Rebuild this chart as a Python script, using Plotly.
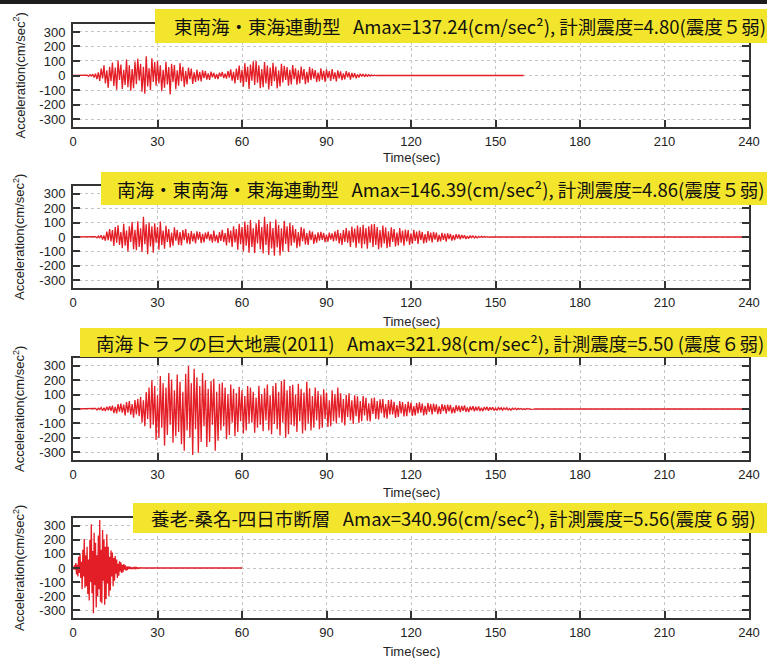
import numpy as np
import plotly.graph_objects as go

W, H = 767, 658

# ---------------- data ----------------
time_ticks = [0, 30, 60, 90, 120, 150, 180, 210, 240]
acc_ticks = [-300, -200, -100, 0, 100, 200, 300]

quake_names = ["東南海・東海連動型", "南海・東南海・東海連動型", "南海トラフの巨大地震(2011)", "養老-桑名-四日市断層"]
amax_values = ["137.24", "146.39", "321.98", "340.96"]
intensity_values = ["4.80", "4.86", "5.50 ", "5.56"]
shindo_classes = ["震度５弱", "震度５弱", "震度６弱", "震度６弱"]

# sampling of each digitised record: first sample time, step, record end (s)
rec_start = [5.0, 8.0, 8.0, 0.0]
rec_step = [0.5, 0.5, 0.5, 0.25]
rec_end = [160.0, 240.0, 240.0, 60.0]

acc_tonankai_tokai = [
    3, -6, 5, -4, 9, -14, 12, -25, 22, -38,
    48, -20, 70, -55, 35, -85, 60, -40, 90, -72,
    55, -98, 104, -30, 75, -92, 40, -65, 110, -80,
    70, -105, 45, -88, 96, -60, 115, -35, 80, -112,
    60, -125, 132, -75, 50, -100, 118, -45, 92, -70,
    102, -55, 70, -108, 40, -85, 95, -62, 58, -130,
    80, -45, 72, -95, 35, -70, 85, -40, 60, -78,
    30, -62, 55, -25, 48, -58, 22, -45, 40, -35,
    25, -40, 35, -18, 30, -28, 15, -30, 26, -12,
    18, -22, 10, -25, 20, -8, 24, -18, 12, -22,
    30, -15, 42, -36, 25, -55, 48, -30, 68, -50,
    40, -78, 85, -45, 60, -92, 75, -35, 98, -66,
    102, -50, 70, -88, 45, -80, 92, -55, 68, -96,
    55, -72, 88, -40, 62, -90, 35, -75, 80, -48,
    66, -30, 58, -70, 40, -62, 72, -25, 50, -64,
    35, -55, 62, -28, 45, -60, 25, -50, 58, -32,
    48, -22, 38, -45, 20, -40, 50, -28, 32, -44,
    42, -18, 30, -38, 45, -25, 22, -40, 35, -20,
    28, -32, 15, -26, 30, -12, 22, -28, 18, -14,
    16, -20, 8, -14, 12, -6, 10, -9, 7, -5,
    5, -4, 3, -2, 2, -1, 0,
]

acc_nankai_tonankai_tokai = [
    3, -6, 7, -5, 12, -18, 10, -26, 38, -22,
    55, -30, 48, -62, 70, -40, 82, -55, 35, -78,
    92, -60, 45, -100, 75, -35, 105, -85, 50, -92,
    110, -70, 60, -105, 140, -50, 88, -120, 102, -65,
    75, -110, 95, -40, 70, -88, 108, -55, 45, -82,
    78, -35, 55, -72, 30, -60, 68, -25, 50, -55,
    35, -58, 48, -22, 55, -45, 28, -50, 42, -30,
    25, -45, 40, -18, 35, -42, 22, -38, 30, -15,
    38, -25, 20, -40, 45, -30, 15, -42, 35, -28,
    50, -35, 28, -58, 62, -40, 45, -70, 75, -38,
    55, -88, 92, -50, 70, -100, 108, -60, 85, -110,
    118, -70, 60, -112, 95, -45, 120, -85, 70, -115,
    140, -55, 90, -125, 108, -80, 62, -130, 122, -72,
    85, -128, 60, -100, 112, -48, 75, -105, 98, -60,
    82, -40, 55, -78, 35, -65, 70, -30, 58, -52,
    28, -55, 45, -22, 38, -48, 18, -40, 32, -25,
    35, -20, 28, -35, 15, -32, 30, -18, 25, -30,
    40, -25, 50, -45, 28, -55, 48, -35, 62, -40,
    45, -70, 72, -38, 58, -75, 80, -45, 68, -78,
    85, -50, 62, -82, 75, -40, 88, -70, 90, -55,
    70, -85, 48, -72, 80, -45, 65, -78, 40, -70,
    68, -35, 55, -65, 30, -58, 62, -40, 45, -60,
    52, -30, 48, -55, 25, -46, 50, -28, 38, -48,
    44, -22, 35, -45, 20, -40, 42, -25, 30, -38,
    36, -18, 30, -34, 15, -30, 28, -20, 24, -32,
    26, -15, 22, -25, 12, -22, 20, -10, 18, -16,
    14, -8, 12, -14, 6, -11, 10, -5, 8, -7,
    5, -6, 4, -3, 5, -2, 3, -2, 2, -1,
    0,
]

acc_nankai_trough = [
    4, -7, 6, -3, 10, -12, 8, -14, 16, -9,
    20, -12, 24, -28, 15, -30, 34, -18, 38, -26,
    30, -45, 48, -25, 55, -40, 35, -60, 62, -38,
    70, -50, 85, -95, 60, -120, 118, -70, 150, -135,
    200, -110, 160, -215, 95, -200, 230, -130, 180, -255,
    150, -180, 250, -110, 205, -235, 130, -190, 240, -160,
    190, -245, 120, -290, 245, -150, 300, -200, 180, -320,
    280, -140, 220, -305, 160, -230, 250, -120, 200, -265,
    140, -230, 195, -110, 210, -290, 120, -220, 175, -150,
    185, -120, 150, -210, 105, -180, 170, -95, 140, -190,
    110, -160, 155, -85, 130, -170, 90, -150, 160, -100,
    150, -95, 120, -165, 80, -130, 162, -110, 105, -155,
    145, -80, 170, -150, 95, -175, 160, -105, 180, -140,
    120, -185, 195, -95, 205, -200, 130, -175, 160, -110,
    168, -120, 100, -160, 175, -85, 140, -170, 115, -150,
    190, -100, 145, -150, 90, -130, 150, -80, 125, -140,
    95, -130, 138, -70, 115, -125, 60, -120, 130, -85,
    105, -100, 150, -60, 110, -95, 70, -115, 98, -55,
    110, -80, 60, -105, 95, -50, 88, -98, 55, -85,
    90, -45, 78, -82, 40, -86, 75, -35, 80, -70,
    55, -72, 68, -30, 70, -60, 35, -68, 62, -40,
    65, -38, 50, -62, 28, -55, 56, -30, 48, -52,
    35, -50, 52, -25, 45, -48, 20, -44, 42, -30,
    46, -25, 38, -45, 22, -40, 42, -20, 35, -38,
    38, -20, 32, -36, 18, -34, 34, -15, 28, -32,
    30, -16, 28, -30, 12, -28, 26, -14, 24, -22,
    22, -12, 25, -20, 10, -22, 18, -9, 20, -16,
    16, -10, 18, -14, 8, -15, 14, -7, 15, -12,
    12, -6, 13, -11, 5, -10, 10, -4, 9, -8,
    8, -4, 9, -7, 3, -8, 6, -3, 6, -5,
    5, -2, 4, -4, 2, -3, 3, -1, 2, -2,
    1, -1, 0,
]

acc_yoro_kuwana_yokkaichi = [
    5, -10, 18, -12, 35, -45, 22, -60, 80, -35,
    100, -70, 45, -150, 130, -60, 205, -140, 90, -130,
    150, -185, 60, -230, 200, -100, 310, -180, 120, -322,
    250, -120, 180, -280, 90, -200, 230, -150, 340, -240,
    130, -250, 270, -90, 200, -260, 150, -220, 240, -110,
    150, -200, 80, -160, 125, -60, 110, -130, 70, -90,
    85, -40, 60, -70, 30, -55, 48, -25, 40, -35,
    22, -30, 28, -12, 20, -18, 10, -16, 12, -8,
    10, -6, 8, -8, 4, -6, 6, -3, 5, -4,
    3, -3, 2, -3, 1, -2, 2, -1, 1, 0,
]

records = [acc_tonankai_tokai, acc_nankai_tonankai_tokai, acc_nankai_trough, acc_yoro_kuwana_yokkaichi]

# ---------------- layout geometry (pixels) ----------------
frame_left, frame_right = 73, 749
frames = [(24, 127), (186, 288), (358, 460), (518, 618)]          # top, bottom
time_label_y = [158, 321, 492, 651]
boxes = [(155, 9, 43, 172), (101, 172, 205, 115), (80, 328, 357, 94), (133, 503, 533, 149)]  # left, top, bottom, text x


def px(x):
    return x / W


def py(y):
    return 1 - y / H


RED = "#e41e26"
FRAME = "#333333"
TICKFONT = dict(family="Liberation Sans, Arial, sans-serif", size=13, color="#222222")

fig = go.Figure()
shapes = []
annotations = []

for i in range(4):
    n = i + 1
    vals = records[i]
    t = rec_start[i] + rec_step[i] * np.arange(len(vals))
    tt = list(t)
    yy = list(vals)
    if rec_start[i] > 0:
        tt = [0.0] + tt
        yy = [0] + yy
    tt.append(rec_end[i])
    yy.append(0)
    fig.add_trace(go.Scatter(x=tt, y=yy, mode="lines", line=dict(color=RED, width=1.3),
                             xaxis=f"x{n}", yaxis=f"y{n}", showlegend=False, hoverinfo="skip"))

    top, bot = frames[i]
    common = dict(showline=True, linecolor=FRAME, linewidth=2, mirror="ticks",
                  ticks="inside", ticklen=7, tickwidth=2, tickcolor=FRAME,
                  showgrid=True, gridcolor="#c4c4c4", gridwidth=1, griddash="dot",
                  zeroline=False, tickfont=TICKFONT, fixedrange=True, automargin=False)
    fig.update_layout(**{
        f"xaxis{n}": dict(domain=[px(frame_left), px(frame_right)], range=[0, 240],
                          tickvals=time_ticks, ticktext=[str(v) for v in time_ticks],
                          anchor=f"y{n}", ticklabelstandoff=1, **common),
        f"yaxis{n}": dict(domain=[py(bot), py(top)], range=[-355, 355],
                          tickvals=acc_ticks, ticktext=[str(v) for v in acc_ticks],
                          anchor=f"x{n}", ticklabelstandoff=3, **common),
    })

    # axis titles
    annotations.append(dict(x=px((frame_left + frame_right) / 2), y=py(time_label_y[i]),
                            xref="paper", yref="paper", text="Time(sec)", showarrow=False,
                            font=dict(family="Liberation Sans, Arial, sans-serif", size=13, color="#222222"),
                            xanchor="center", yanchor="middle"))
    annotations.append(dict(x=px(19), y=py((top + bot) / 2), xref="paper", yref="paper",
                            text="Acceleration(cm/sec<sup>2</sup>)", textangle=-90, showarrow=False,
                            font=dict(family="Liberation Sans, Arial, sans-serif", size=13, color="#222222"),
                            xanchor="center", yanchor="middle"))

    # yellow label boxes
    bl, bt, bb, tx = boxes[i]
    shapes.append(dict(type="rect", xref="paper", yref="paper", x0=px(bl), x1=px(W + 2),
                       y0=py(bb), y1=py(bt), fillcolor="#f3e52c", line=dict(width=0), layer="above"))
    label = (f"{quake_names[i]}&nbsp;&nbsp;&nbsp;Amax={amax_values[i]}(cm/sec²), "
             f"計測震度={intensity_values[i]}({shindo_classes[i]})")
    annotations.append(dict(x=px(tx), y=py((bt + bb) / 2), xref="paper", yref="paper",
                            text=label, showarrow=False, xanchor="left", yanchor="middle",
                            font=dict(family="Noto Sans CJK JP, sans-serif", size=18.5, color="#111111")))

# dark strip across the top of the picture
shapes.append(dict(type="rect", xref="paper", yref="paper", x0=0, x1=1, y0=py(4), y1=1,
                   fillcolor="#1c1c1c", line=dict(width=0), layer="above"))

fig.update_layout(width=W, height=H, margin=dict(l=0, r=0, t=0, b=0),
                  paper_bgcolor="white", plot_bgcolor="white",
                  shapes=shapes, annotations=annotations, showlegend=False)

fig.write_html("out.html", config={"displayModeBar": False},
               post_script="document.body.style.margin='0';document.body.style.overflow='hidden';")
